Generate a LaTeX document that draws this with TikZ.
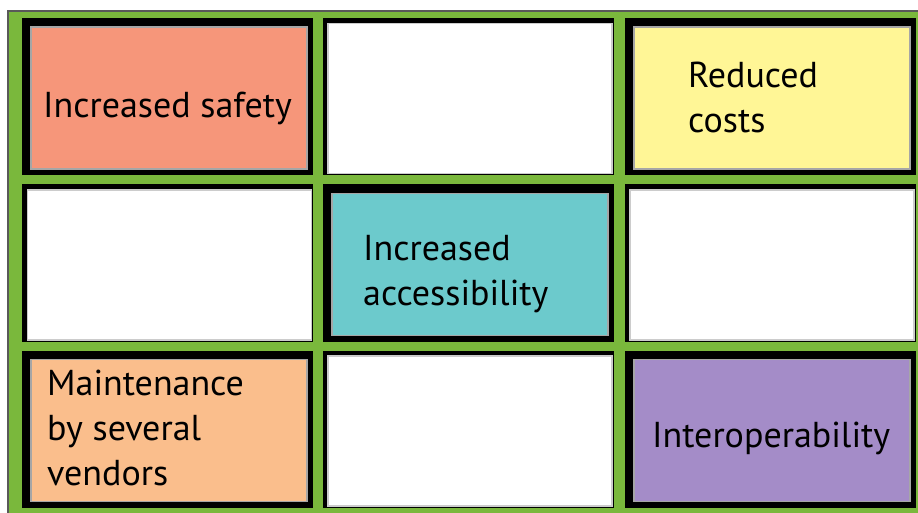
\documentclass[tikz,border=0pt]{standalone}
\usepackage{fontspec}
\setmainfont{PT Sans}
\usepackage{tikz}
\usetikzlibrary{positioning}
\definecolor{gridgreen}{RGB}{122,184,60}
\definecolor{salmon}{RGB}{246,150,122}
\definecolor{paleyellow}{RGB}{255,246,150}
\definecolor{teal}{RGB}{108,202,204}
\definecolor{peach}{RGB}{250,190,140}
\definecolor{lilac}{RGB}{164,140,200}
\tikzstyle{frame} = [rectangle, fill=black, inner sep=0, minimum width=291pt, minimum height=157pt]
\tikzstyle{tile} = [rectangle, draw=gray!70, line width=1.5pt, inner sep=0, minimum width=276pt, minimum height=142pt]
\tikzstyle{blank} = [rectangle, fill=white, draw=gray!40, line width=1.5pt, inner sep=0, minimum width=284pt, minimum height=150pt]
\tikzstyle{label} = [anchor=base west, inner sep=0, align=left, font=\fontsize{36}{45}\selectfont]

\begin{document}
\begin{tikzpicture}[x=1pt, y=-1pt]
\useasboundingbox (0,0) rectangle (918,513);
\fill[white] (0,0) rectangle (918,513);
\fill[gridgreen] (8,12) rectangle (918,513);
\draw[gray!70!black, line width=1.5pt] (8,513) -- (8,11) -- (918,11);

% black frames
\node (f11) [frame] at (167.5,96.5) {};
\node (f12) [frame] at (468,96.5) {};
\node (f13) [frame] at (770,96.5) {};
\node (f21) [frame] at (167.5,263) {};
\node (f22) [frame] at (468,263) {};
\node (f23) [frame] at (770,263) {};
\node (f31) [frame] at (167.5,429) {};
\node (f32) [frame] at (468,429) {};
\node (f33) [frame] at (770,429) {};

% coloured and empty tiles
\node (safety) [tile, fill=salmon] at (169,98) {};
\node (e12) [blank] at (470,98.5) {};
\node (costs) [tile, fill=paleyellow] at (772,98) {};
\node (e21) [blank] at (169.5,265) {};
\node (access) [tile, fill=teal] at (470,264.5) {};
\node (e23) [blank] at (772,265) {};
\node (vendors) [tile, fill=peach] at (169,430.5) {};
\node (e32) [blank] at (470,431) {};
\node (interop) [tile, fill=lilac] at (772,430.5) {};

% texts (base = last line)
\node (tsafety) [label] at (43,118) {Increased safety};
\node (tcosts) [label] at (688,133) {Reduced\\costs};
\node (taccess) [label] at (363,305) {Increased\\accessibility};
\node (tvendors) [label] at (47,485) {Maintenance\\by several\\vendors};
\node (tinterop) [label] at (652,447) {Interoperability};

\end{tikzpicture}
\end{document}
